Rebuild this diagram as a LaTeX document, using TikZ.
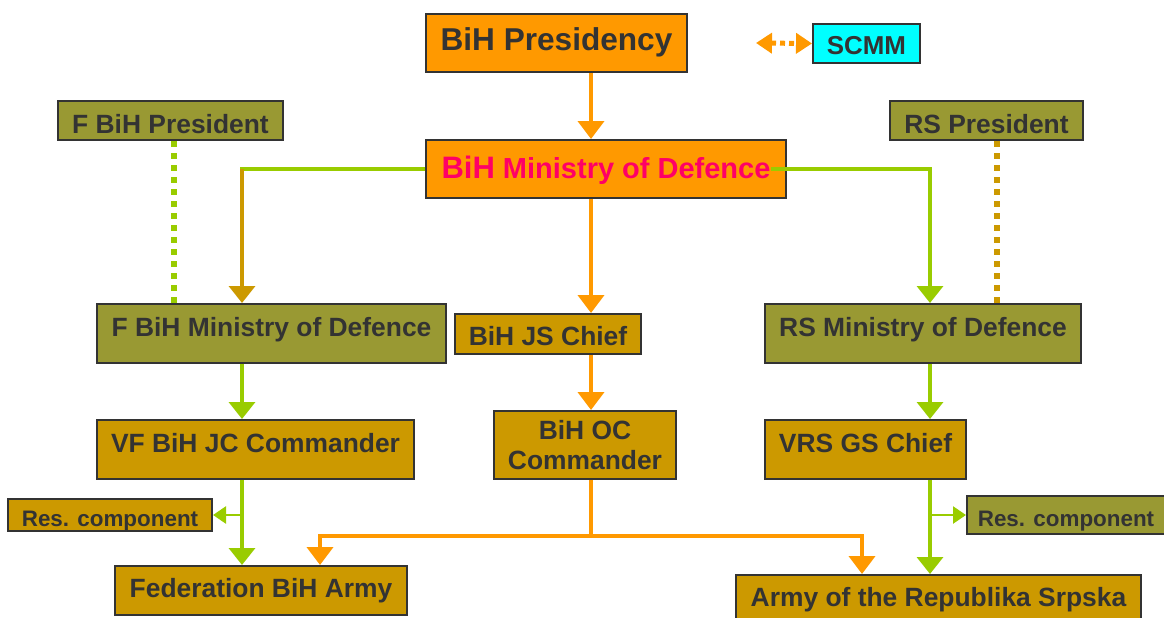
\documentclass[tikz,border=0pt]{standalone}
\usepackage{fontspec}
\setmainfont{Liberation Sans}
\usepackage{xcolor}
\usetikzlibrary{arrows.meta}

\definecolor{orangebox}{HTML}{FF9900}
\definecolor{olivebox}{HTML}{999933}
\definecolor{goldbox}{HTML}{CC9900}
\definecolor{limeline}{HTML}{99CC00}
\definecolor{cyanbox}{HTML}{00FFFF}
\definecolor{pinktext}{HTML}{FF0066}
\definecolor{ink}{HTML}{333333}

\begin{document}
\begin{tikzpicture}[x=1pt, y=-1pt,
  box/.style={draw=ink, line width=2pt, inner sep=0pt, text=ink,
    font=\bfseries\fontsize{26.4}{30}\selectfont},
  caps/.style 2 args={text height=#1, text depth=#2},
  small/.style={font=\bfseries\fontsize{22.4}{26}\selectfont},
  orangearrow/.style={draw=orangebox, line width=4pt, -{Triangle[width=26pt,length=18pt]}},
  limearrow/.style={draw=limeline, line width=3.5pt, -{Triangle[width=26pt,length=17pt]}},
  goldarrow/.style={draw=goldbox, line width=3.5pt, -{Triangle[width=26pt,length=17pt]}},
  limebranch/.style={draw=limeline, line width=2.5pt, -{Triangle[width=17pt,length=13pt]}},
  dots/.style={line width=6pt, dash pattern=on 6pt off 6pt}]
  \useasboundingbox (0,0) rectangle (1164,618);

  % top row
  \node (pres)   [box, fill=orangebox, minimum width=261pt, minimum height=58pt, caps={22.6pt}{8pt},
                  font=\bfseries\fontsize{31.6}{34}\selectfont] at (556.5,43) {BiH Presidency};
  \node (scmm)   [box, fill=cyanbox, minimum width=107pt, minimum height=39pt, caps={22.5pt}{0pt},
                  font=\bfseries\fontsize{25.9}{30}\selectfont] at (866.5,43.5) {SCMM};
  \node (mod)    [box, fill=orangebox, text=pinktext, minimum width=360pt, minimum height=58pt, caps={22pt}{4pt},
                  font=\bfseries\fontsize{29}{32}\selectfont] at (606,169)
                  {{\fontsize{31}{34}\selectfont BiH} Ministry of Defence};
  \node (fpres)  [box, fill=olivebox, minimum width=225pt, minimum height=39pt, caps={26pt}{0pt}] at (170.5,120.5) {F BiH President};
  \node (rspres) [box, fill=olivebox, minimum width=193pt, minimum height=39pt, caps={26pt}{0pt}] at (986.5,120.5) {RS President};

  % ministries and commands
  \node (fmod)    [box, fill=olivebox, minimum width=349pt, minimum height=59pt, caps={19pt}{14pt}] at (271.5,333.5) {F BiH Ministry of Defence};
  \node (jschief) [box, fill=goldbox, minimum width=186pt, minimum height=40pt, caps={23pt}{0pt}] at (548,334) {BiH JS Chief};
  \node (rsmod)   [box, fill=olivebox, minimum width=316pt, minimum height=59pt, caps={19pt}{14pt}] at (923,333.5) {RS Ministry of Defence};
  \node (vfjc)    [box, fill=goldbox, minimum width=317pt, minimum height=59pt, caps={19pt}{14pt}] at (255.5,449.5) {VF BiH JC Commander};
  \node (occ)     [box, fill=goldbox, minimum width=182pt, minimum height=68pt, align=center] at (585,445) {BiH OC\\Commander};
  \node (vrsgs)   [box, fill=goldbox, minimum width=201pt, minimum height=59pt, caps={19pt}{14pt}] at (865.5,449.5) {VRS GS Chief};

  % forces
  \node (resl)    [box, small, fill=goldbox, minimum width=204pt, minimum height=32pt, caps={22pt}{0pt}] at (110,515) {Res. component};
  \node (resr)    [box, small, fill=olivebox, minimum width=198pt, minimum height=38pt, caps={22pt}{0pt}] at (1066,515) {Res. component};
  \node (fedarmy) [box, fill=goldbox, minimum width=292pt, minimum height=49pt, caps={19pt}{6pt}] at (261,590.5) {Federation BiH Army};
  \node (rsarmy)  [box, fill=goldbox, minimum width=405pt, minimum height=49pt, caps={19pt}{6pt}] at (938.5,599.5) {Army of the Republika Srpska};

  \coordinate (spine) at (591,0);
  \coordinate (fline) at (242,0);
  \coordinate (rline) at (930,0);
  \coordinate (fdots) at (174,0);
  \coordinate (rdots) at (997,0);
  \coordinate (fdrop) at (320,536);
  \coordinate (rdrop) at (862,536);
  \coordinate (scmmlink) at (756,43);

  \draw[orangebox, line width=5pt, dash pattern=on 5pt off 4pt,
        {Triangle[width=20pt,length=16pt]}-{Triangle[width=20pt,length=16pt]}] (scmmlink) -- (scmm.west);

  \foreach \a/\b in {pres/mod, mod/jschief, jschief/occ}
    \draw[orangearrow] (\a.south -| spine) -- (\b.north -| spine);
  \foreach \a/\b in {fmod/vfjc, vfjc/fedarmy}
    \draw[limearrow] (\a.south -| fline) -- (\b.north -| fline);
  \foreach \a/\b in {rsmod/vrsgs, vrsgs/rsarmy}
    \draw[limearrow] (\a.south -| rline) -- (\b.north -| rline);

  \draw[limeline, line width=3.5pt] (mod.west) -- ([xshift=-1.75pt]mod.west -| fline);
  \draw[goldarrow] (mod.west -| fline) -- (fmod.north -| fline);
  \draw[limearrow] ([xshift=-16pt]mod.east) -| (rsmod.north -| rline);

  \draw[limeline, dots] (fpres.south -| fdots) -- (fmod.north -| fdots);
  \draw[goldbox, dots] (rspres.south -| rdots) -- (rsmod.north -| rdots);

  \draw[limebranch] (resl.east -| fline) -- (resl.east);
  \draw[limebranch] (resr.west -| rline) -- (resr.west);

  \draw[orangearrow] (occ.south -| spine) |- (fdrop) -- (fedarmy.north -| fdrop);
  \draw[orangearrow] (occ.south -| spine) |- (rdrop) -- (rsarmy.north -| rdrop);
\end{tikzpicture}
\end{document}
